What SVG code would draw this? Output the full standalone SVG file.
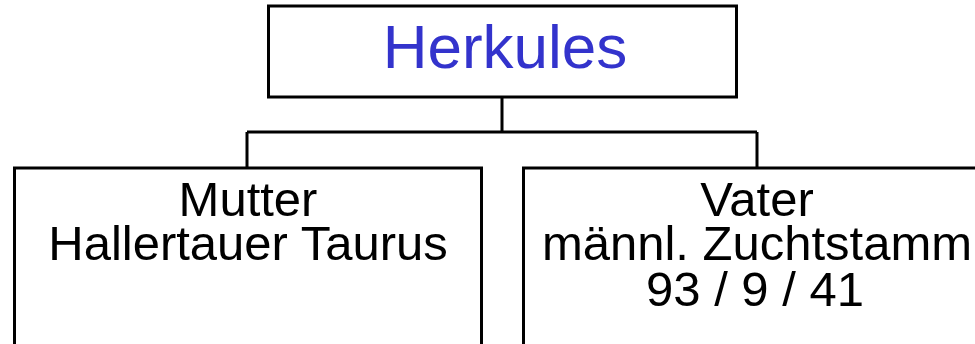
<svg xmlns="http://www.w3.org/2000/svg" width="975" height="344" viewBox="0 0 975 344">
<style>
.box{fill:#fff;stroke:#000;stroke-width:3}
.con{fill:none;stroke:#000;stroke-width:3}
.t{font-family:"Liberation Sans",Arial,sans-serif;text-anchor:middle;fill:#000;font-size:49px}
.title{fill:#3333cc;font-size:62px}
</style>
<rect width="975" height="344" fill="#fff"/>
<g id="connectors">
<path class="con" d="M502,97 V132 M247,132 H757 M247,132 V168 M757,132 V168"/>
</g>
<g id="herkules">
<rect class="box" x="268.5" y="6" width="468" height="91"/>
<text class="t title" x="505" y="68">Herkules</text>
</g>
<g id="mutter">
<rect class="box" x="14.5" y="168" width="467" height="190"/>
<text class="t" x="248" y="216">Mutter</text>
<text class="t" x="248" y="260">Hallertauer Taurus</text>
</g>
<g id="vater">
<rect class="box" x="523.5" y="168" width="467" height="190"/>
<text class="t" x="757" y="216">Vater</text>
<text class="t" x="757" y="260">männl. Zuchtstamm</text>
<text class="t" x="755" y="306">93 / 9 / 41</text>
</g>
</svg>
